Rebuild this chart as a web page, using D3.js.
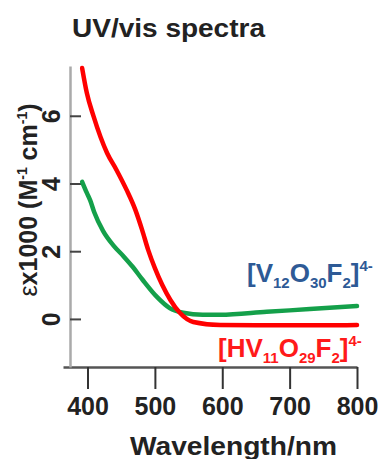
<!DOCTYPE html>
<html>
<head>
<meta charset="utf-8">
<script src="https://cdn.jsdelivr.net/npm/d3@7"></script>
<style>
  body { margin: 0; background: #fff; }
  text { font-family: "Liberation Sans", Arial, sans-serif; font-weight: bold; }
</style>
</head>
<body>
<svg id="chart" width="384" height="459"></svg>
<script>
// wavelength (nm) and epsilon x1000
var redWl  = [392, 399, 409, 429, 443, 458, 471, 481, 490, 500, 511, 523, 537, 557, 597, 650, 700, 750, 800];
var redEps = [7.41, 6.67, 5.98, 4.90, 4.40, 3.81, 3.22, 2.63, 2.04, 1.50, 1.00, 0.56, 0.18, -0.09, -0.18, -0.19, -0.19, -0.19, -0.18];

var greenWl  = [392, 399, 404, 410, 423, 438, 453, 467, 482, 503, 522, 542, 571, 597, 666, 730, 800];
var greenEps = [4.05, 3.72, 3.50, 3.15, 2.60, 2.18, 1.86, 1.54, 1.15, 0.65, 0.32, 0.18, 0.12, 0.12, 0.21, 0.29, 0.38];

var xTicks = [400, 500, 600, 700, 800];
var yTicks = [0, 2, 4, 6];

var svg = d3.select("#chart");

var x = d3.scaleLinear().domain([363.6, 800]).range([63, 357]);
var y = d3.scaleLinear().domain([-1.42, 7.47]).range([367, 66]);

// title
svg.append("text")
    .attr("x", 72).attr("y", 37)
    .attr("font-size", 26)
    .attr("textLength", 193).attr("lengthAdjust", "spacingAndGlyphs")
    .attr("fill", "#222")
    .text("UV/vis spectra");

// x axis
var xAxis = svg.append("g")
    .attr("transform", "translate(0,367)")
    .call(d3.axisBottom(x).tickValues(xTicks).tickSize(22).tickSizeOuter(0));
xAxis.select(".domain").attr("stroke", "#555").attr("stroke-width", 2.5);
xAxis.selectAll(".tick line").attr("stroke", "#333").attr("stroke-width", 2);
xAxis.selectAll(".tick text")
    .attr("font-size", 25).attr("fill", "#222")
    .attr("y", 48).attr("dy", 0);

// y axis (ticks pointing inwards, labels rotated)
var yAxis = svg.append("g")
    .attr("transform", "translate(70,0)")
    .call(d3.axisLeft(y).tickValues(yTicks).tickSize(-11).tickSizeOuter(0));
yAxis.select(".domain").attr("stroke", "#aaa").attr("stroke-width", 2.5);
yAxis.selectAll(".tick line").attr("stroke", "#444").attr("stroke-width", 2);
yAxis.selectAll(".tick text")
    .attr("font-size", 25).attr("fill", "#222")
    .attr("transform", "rotate(-90)")
    .attr("text-anchor", "middle")
    .attr("x", 0).attr("y", -10).attr("dy", 0);

// axis titles
svg.append("text")
    .attr("x", 130).attr("y", 455)
    .attr("font-size", 25).attr("fill", "#222")
    .attr("textLength", 207).attr("lengthAdjust", "spacingAndGlyphs")
    .text("Wavelength/nm");

var yTitle = svg.append("text")
    .attr("transform", "translate(37,200) rotate(-90)")
    .attr("text-anchor", "middle")
    .attr("font-size", 25).attr("fill", "#222");
yTitle.append("tspan").attr("font-weight", "normal").text("\u03b5");
yTitle.append("tspan").text("x1000 (M");
yTitle.append("tspan").attr("font-size", 14).attr("dy", -10).text("-1");
yTitle.append("tspan").attr("dy", 10).text(" cm");
yTitle.append("tspan").attr("font-size", 14).attr("dy", -10).text("-1");
yTitle.append("tspan").attr("dy", 10).text(")");

// curves
var line = d3.line()
    .x(function (d) { return x(d[0]); })
    .y(function (d) { return y(d[1]); })
    .curve(d3.curveMonotoneX);

svg.append("path")
    .datum(d3.zip(greenWl, greenEps))
    .attr("fill", "none").attr("stroke", "#14a04a").attr("stroke-width", 4.5)
    .attr("stroke-linecap", "round")
    .attr("d", line);

svg.append("path")
    .datum(d3.zip(redWl, redEps))
    .attr("fill", "none").attr("stroke", "#ff0000").attr("stroke-width", 4.5)
    .attr("stroke-linecap", "round")
    .attr("d", line);

// formula labels
function formula(xp, yp, color, parts) {
    var t = svg.append("text").attr("x", xp).attr("y", yp)
        .attr("font-size", 26).attr("fill", color);
    var off = 0;
    parts.forEach(function (p) {
        var want = p[1] === "sub" ? 6 : (p[1] === "sup" ? -11 : 0);
        t.append("tspan")
            .attr("font-size", p[1] ? 15 : 26)
            .attr("dy", want - off)
            .text(p[0]);
        off = want;
    });
}
formula(247, 282, "#2e5a96", [["[V"], ["12", "sub"], ["O"], ["30", "sub"], ["F"], ["2", "sub"], ["]"], ["4-", "sup"]]);
formula(218, 357, "#ff1a1a", [["[HV"], ["11", "sub"], ["O"], ["29", "sub"], ["F"], ["2", "sub"], ["]"], ["4-", "sup"]]);
</script>
</body>
</html>
